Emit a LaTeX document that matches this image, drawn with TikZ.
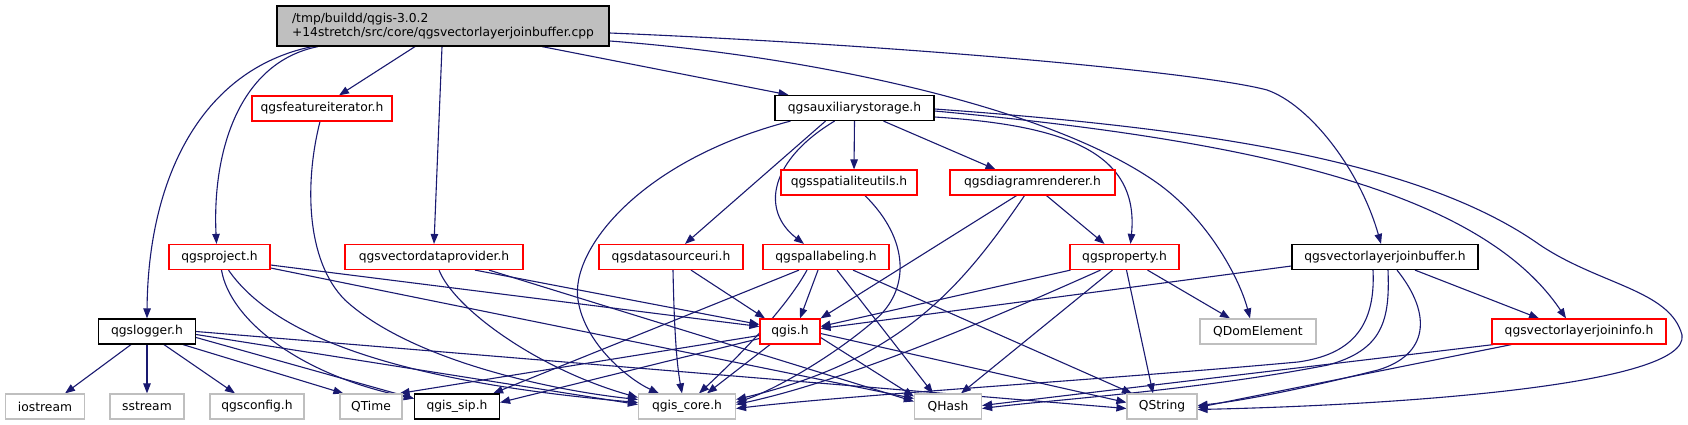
\documentclass[tikz,border=0pt]{standalone}
\usepackage{fontspec}
\setmainfont{DejaVu Sans}
\usetikzlibrary{arrows.meta,backgrounds}
\definecolor{dxblue}{RGB}{25,25,112}
\definecolor{dxred}{RGB}{255,0,0}
\definecolor{dxgray}{RGB}{191,191,191}
\tikzset{
  box/.style={draw, line width=1.2pt, minimum height=25pt, inner sep=0pt, fill=white, font=\fontsize{12.3}{14.5}\selectfont},
  redbox/.style={box, draw=dxred},
  blkbox/.style={box, draw=black},
  grybox/.style={box, draw=dxgray},
  edge/.style={draw=dxblue, line width=1.1pt, -{Triangle[length=10pt,width=7.5pt]}},
}
\begin{document}
\begin{tikzpicture}[x=1pt,y=-1pt]
\useasboundingbox (0,0) rectangle (1688,425);
% nodes
\node[blkbox, fill=dxgray, minimum width=332pt, minimum height=40pt, align=left] (main) at (443,26) {/tmp/buildd/qgis-3.0.2\\+14stretch/src/core/qgsvectorlayerjoinbuffer.cpp};
\node[redbox, minimum width=140pt] (fi) at (322,108.5) {qgsfeatureiterator.h};
\node[blkbox, minimum width=159pt] (aux) at (854.5,108) {qgsauxiliarystorage.h};
\node[redbox, minimum width=136pt] (spu) at (849,182.5) {qgsspatialiteutils.h};
\node[redbox, minimum width=165pt] (dr) at (1032.5,182.5) {qgsdiagramrenderer.h};
\node[redbox, minimum width=101pt] (proj) at (219.5,257) {qgsproject.h};
\node[redbox, minimum width=178pt] (vdp) at (434,257) {qgsvectordataprovider.h};
\node[redbox, minimum width=144pt] (dsu) at (671,257) {qgsdatasourceuri.h};
\node[redbox, minimum width=126pt] (pal) at (826,257) {qgspallabeling.h};
\node[redbox, minimum width=109pt] (prop) at (1124.5,257) {qgsproperty.h};
\node[blkbox, minimum width=186pt] (buf) at (1385,257) {qgsvectorlayerjoinbuffer.h};
\node[blkbox, minimum width=97pt] (log) at (147,331.5) {qgslogger.h};
\node[redbox, minimum width=60pt] (qgis) at (790,331.5) {qgis.h};
\node[grybox, minimum width=116pt] (qdom) at (1258,331.5) {QDomElement};
\node[redbox, minimum width=174pt] (jinfo) at (1579,331.5) {qgsvectorlayerjoininfo.h};
\node[grybox, minimum width=79pt] (ios) at (45,406.5) {iostream};
\node[grybox, minimum width=74pt] (sst) at (147,406.5) {sstream};
\node[grybox, minimum width=94pt] (cfg) at (257,406.5) {qgsconfig.h};
\node[grybox, minimum width=62pt] (qtime) at (371,406.5) {QTime};
\node[blkbox, minimum width=85pt] (sip) at (457,406.5) {qgis\_sip.h};
\node[grybox, minimum width=97pt] (core) at (687,406.5) {qgis\_core.h};
\node[grybox, minimum width=67pt] (qhash) at (948,406.5) {QHash};
\node[grybox, minimum width=70pt] (qstr) at (1162,406.5) {QString};
\begin{pgfonlayer}{background}
\fill[white] (0,0) rectangle (1688,425);
% from main
\draw[edge] ([xshift=-28pt]main.south) -- ([xshift=17pt]fi.north);
\draw[edge] ([xshift=99pt]main.south) -- ([xshift=-66pt]aux.north);
\draw[edge] ([yshift=-7pt]main.east) .. controls (900,45) and (1200,72) .. (1267,90) .. controls (1310,105) and (1360,170) .. ([xshift=-4pt]buf.north);
\draw[edge] ([yshift=-15pt]main.east) .. controls (800,55) and (1050,105) .. (1160,185) .. controls (1210,222) and (1240,280) .. ([xshift=-8pt]qdom.north);
\draw[edge] ([xshift=-125pt]main.south) .. controls (240,62) and (212,150) .. ([xshift=-3pt]proj.north);
\draw[edge] ([xshift=-131pt]main.south) .. controls (200,70) and (148,180) .. (log.north);
\draw[edge] ([xshift=-1pt]main.south) -- (vdp.north);
% featureiterator
\draw[edge] ([xshift=-2pt]fi.south) .. controls (305,180) and (305,260) .. (345,300) .. controls (410,360) and (550,390) .. ([yshift=7pt]core.west);
% project
\draw[edge] ([xshift=2pt]proj.south) .. controls (230,320) and (300,375) .. ([yshift=8pt]sip.west);
\draw[edge] ([xshift=9pt]proj.south) .. controls (270,330) and (380,380) .. ([yshift=4pt]core.west);
\draw[edge] ([yshift=-8pt]proj.east) -- ([yshift=5pt]qgis.west);
\draw[edge] ([yshift=-11pt]proj.east) -- ([yshift=8pt]qhash.west);
% vdp
\draw[edge] ([xshift=5pt]vdp.south) .. controls (455,310) and (540,370) .. ([yshift=9pt]core.west);
\draw[edge] ([xshift=41pt]vdp.south) -- ([yshift=7pt]qgis.west);
\draw[edge] ([xshift=55pt]vdp.south) -- ([yshift=5pt]qhash.west);
% datasourceuri
\draw[edge] ([xshift=2pt]dsu.south) .. controls (674,320) and (676,360) .. ([xshift=-5pt]core.north);
\draw[edge] ([xshift=20pt]dsu.south) -- ([xshift=-25pt]qgis.north);
% pallabeling
\draw[edge] ([xshift=-27pt]pal.south) -- ([xshift=-7pt]sip.north east);
\draw[edge] ([xshift=-19pt]pal.south) .. controls (785,310) and (735,360) .. ([xshift=12pt]core.north);
\draw[edge] ([xshift=-8pt]pal.south) -- ([xshift=10pt]qgis.north);
\draw[edge] ([xshift=11pt]pal.south) -- ([xshift=-15pt]qhash.north);
\draw[edge] ([xshift=27pt]pal.south) -- ([xshift=-30pt]qstr.north);
% spatialiteutils
\draw[edge] ([xshift=16pt]spu.south) .. controls (910,240) and (910,290) .. (875,320) .. controls (835,355) and (775,390) .. ([yshift=4pt]core.east);
% diagramrenderer
\draw[edge] ([xshift=-16pt]dr.south) -- (qgis.north east);
\draw[edge] ([xshift=-8pt]dr.south) .. controls (960,290) and (900,360) .. ([yshift=7pt]core.east);
\draw[edge] ([xshift=14pt]dr.south) -- ([xshift=-20pt]prop.north);
% auxiliarystorage
\draw[edge] ([xshift=-64pt]aux.south) .. controls (640,160) and (570,250) .. (578,300) .. controls (585,345) and (630,380) .. ([xshift=-28pt]core.north);
\draw[edge] ([xshift=-29pt]aux.south) -- ([xshift=14pt]dsu.north);
\draw[edge] ([xshift=-20pt]aux.south) .. controls (770,160) and (760,210) .. ([xshift=-22pt]pal.north);
\draw[edge] (aux.south) -- ([xshift=5pt]spu.north);
\draw[edge] ([xshift=29pt]aux.south) -- ([xshift=-37pt]dr.north);
\draw[edge] ([yshift=-9pt]aux.east) .. controls (1060,125) and (1140,150) .. ([xshift=6pt]prop.north);
\draw[edge] ([yshift=-3pt]aux.east) .. controls (1250,140) and (1480,190) .. ([xshift=-13pt]jinfo.north);
\draw[edge] ([yshift=-1pt]aux.east) .. controls (1200,128) and (1420,160) .. (1540,245) .. controls (1600,285) and (1670,290) .. (1682,335) .. controls (1690,385) and (1400,405) .. ([yshift=-3pt]qstr.east);
% property
\draw[edge] ([xshift=23pt]prop.south) -- ([xshift=-28pt]qdom.north);
\draw[edge] ([xshift=-54pt]prop.south) -- ([yshift=5pt]qgis.east);
\draw[edge] ([xshift=-24pt]prop.south) .. controls (1000,315) and (850,380) .. ([yshift=2pt]core.east);
\draw[edge] ([xshift=-12pt]prop.south) -- ([xshift=13pt]qhash.north);
\draw[edge] ([xshift=2pt]prop.south) -- ([xshift=-9pt]qstr.north);
% joinbuffer
\draw[edge] ([yshift=-9pt]buf.west) -- ([yshift=3pt]qgis.east);
\draw[edge] ([xshift=-12pt]buf.south) .. controls (1376,330) and (1348,355) .. (1298,362) .. controls (1100,380) and (850,395) .. ([yshift=-2pt]core.east);
\draw[edge] ([xshift=3pt]buf.south) .. controls (1390,320) and (1383,350) .. (1328,365) .. controls (1200,390) and (1050,400) .. ([yshift=-2pt]qhash.east);
\draw[edge] ([xshift=12pt]buf.south) .. controls (1433,315) and (1428,355) .. (1378,370) .. controls (1318,385) and (1250,400) .. ([yshift=1pt]qstr.east);
\draw[edge] ([xshift=30pt]buf.south) -- ([xshift=-40pt]jinfo.north);
% joininfo
\draw[edge] ([xshift=2pt]jinfo.south west) -- ([yshift=1pt]qhash.east);
\draw[edge] ([xshift=20pt]jinfo.south west) -- ([yshift=-1pt]qstr.east);
% logger
\draw[edge] ([xshift=-16pt]log.south) -- ([xshift=20pt]ios.north);
\draw[edge] (log.south) -- (sst.north);
\draw[edge] ([xshift=17pt]log.south) -- ([xshift=-22pt]cfg.north);
\draw[edge] ([xshift=36pt]log.south) -- ([xshift=4pt]qtime.north west);
\draw[edge] ([yshift=-6pt]log.east) -- ([yshift=8pt]sip.west);
\draw[edge] ([yshift=-3pt]log.east) -- ([yshift=2pt]core.west);
\draw[edge] (log.east) -- ([yshift=-2pt]qstr.west);
% qgis.h
\draw[edge] ([yshift=-4pt]qgis.west) -- ([xshift=-3pt]qtime.north east);
\draw[edge] ([yshift=-7pt]qgis.west) -- ([yshift=4pt]sip.east);
\draw[edge] ([xshift=-20pt]qgis.south) -- ([xshift=20pt]core.north);
\draw[edge] ([yshift=-6pt]qgis.east) -- ([yshift=10pt]qhash.west);
\draw[edge] ([yshift=-2pt]qgis.east) -- ([yshift=4pt]qstr.west);
\end{pgfonlayer}
\end{tikzpicture}
\end{document}
